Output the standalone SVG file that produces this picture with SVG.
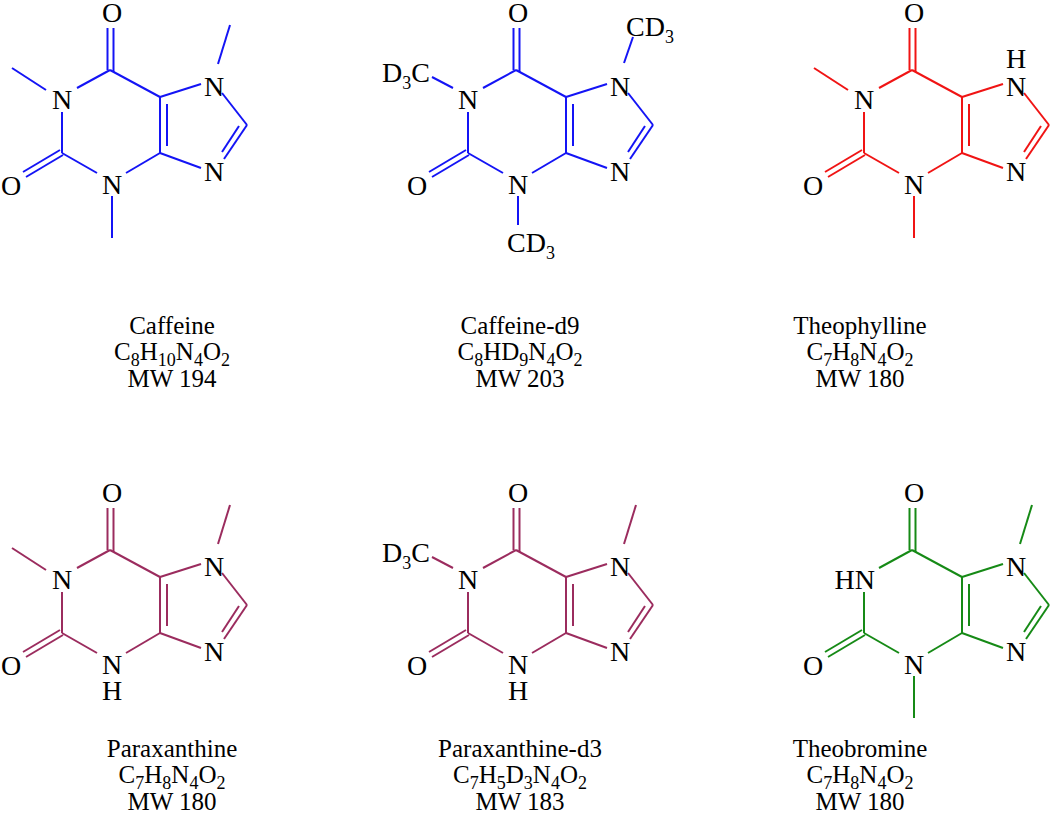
<svg xmlns="http://www.w3.org/2000/svg" xmlns:xlink="http://www.w3.org/1999/xlink" width="1050" height="824" viewBox="0 0 1050 824">
<style>
text{font-family:"Liberation Serif","Times New Roman",serif;fill:#000}
.a{font-size:28px;text-anchor:middle}
.c{font-size:25px;text-anchor:middle}
.s{font-size:18px}
line{stroke:currentColor;stroke-width:2;fill:none}
</style>
<defs>
<g id="core">
<line x1="107.5" y1="28" x2="107.5" y2="70"/><line x1="113.5" y1="28" x2="113.5" y2="72"/>
<line x1="110" y1="70" x2="77" y2="88"/>
<line x1="62" y1="112" x2="62" y2="153"/>
<line x1="60" y1="150" x2="23" y2="172"/><line x1="63" y1="155" x2="26" y2="177"/>
<line x1="62" y1="153" x2="97" y2="173"/>
<line x1="126" y1="173" x2="160" y2="153"/>
<line x1="160" y1="153" x2="160" y2="97"/><line x1="167" y1="104" x2="167" y2="146"/>
<line x1="160" y1="97" x2="110" y2="70"/>
<line x1="160" y1="97" x2="201" y2="84"/>
<line x1="222" y1="93" x2="247" y2="125"/>
<line x1="247" y1="125" x2="224" y2="159"/><line x1="239" y1="126" x2="222" y2="152"/>
<line x1="201" y1="168" x2="160" y2="153"/>
<text class="a" x="112" y="22">O</text>
<text class="a" x="11" y="195">O</text>
<text class="a" x="214" y="96">N</text>
<text class="a" x="214" y="181">N</text>
</g>
<line id="m1" x1="46" y1="90" x2="12" y2="68"/>
<line id="m3" x1="112" y1="196" x2="112" y2="238"/>
<line id="m7" x1="218" y1="64" x2="230" y2="25"/>
<line id="d1" x1="47" y1="88" x2="26" y2="77"/>
<text id="N1" class="a" x="62" y="109">N</text>
<text id="N3" class="a" x="112" y="194">N</text>
<text id="D3C" class="a" x="24" y="82" style="text-anchor:end">D<tspan class="s" dy="7">3</tspan><tspan dy="-7">C</tspan></text>
<text id="H3" class="a" x="112" y="220">H</text>
</defs>
<g id="caffeine" color="#1414f5">
<use xlink:href="#core"/><use xlink:href="#m1"/><use xlink:href="#m3"/><use xlink:href="#m7"/>
<use xlink:href="#N1"/><use xlink:href="#N3"/>
</g>
<g id="caffeine-d9" color="#1414f5" transform="translate(406,0)">
<use xlink:href="#core"/><use xlink:href="#d1"/>
<line x1="112" y1="196" x2="112" y2="225"/>
<line x1="218" y1="63" x2="227" y2="37"/>
<use xlink:href="#N1"/><use xlink:href="#N3"/><use xlink:href="#D3C"/>
<text class="a" x="220" y="36" style="text-anchor:start">CD<tspan class="s" dy="7">3</tspan></text>
<text class="a" x="101" y="252" style="text-anchor:start">CD<tspan class="s" dy="7">3</tspan></text>
</g>
<g id="theophylline" color="#f01414" transform="translate(802,0)">
<use xlink:href="#core"/><use xlink:href="#m1"/><use xlink:href="#m3"/>
<use xlink:href="#N1"/><use xlink:href="#N3"/>
<text class="a" x="214" y="68">H</text>
</g>
<g id="paraxanthine" color="#9b2c5e" transform="translate(0,480)">
<use xlink:href="#core"/><use xlink:href="#m1"/><use xlink:href="#m7"/>
<use xlink:href="#N1"/><use xlink:href="#N3"/><use xlink:href="#H3"/>
</g>
<g id="paraxanthine-d3" color="#9b2c5e" transform="translate(406,480)">
<use xlink:href="#core"/><use xlink:href="#d1"/><use xlink:href="#m7"/>
<use xlink:href="#N1"/><use xlink:href="#N3"/><use xlink:href="#H3"/><use xlink:href="#D3C"/>
</g>
<g id="theobromine" color="#168a16" transform="translate(802,480)">
<use xlink:href="#core"/><use xlink:href="#m3"/><use xlink:href="#m7"/>
<use xlink:href="#N3"/>
<text class="a" x="73" y="109" style="text-anchor:end">HN</text>
</g>
<g id="captions">
<text class="c" x="172" y="334">Caffeine</text>
<text class="c" x="172" y="360">C<tspan class="s" dy="6">8</tspan><tspan dy="-6">H</tspan><tspan class="s" dy="6">10</tspan><tspan dy="-6">N</tspan><tspan class="s" dy="6">4</tspan><tspan dy="-6">O</tspan><tspan class="s" dy="6">2</tspan></text>
<text class="c" x="172" y="387">MW 194</text>
<text class="c" x="520" y="334">Caffeine-d9</text>
<text class="c" x="520" y="360">C<tspan class="s" dy="6">8</tspan><tspan dy="-6">HD</tspan><tspan class="s" dy="6">9</tspan><tspan dy="-6">N</tspan><tspan class="s" dy="6">4</tspan><tspan dy="-6">O</tspan><tspan class="s" dy="6">2</tspan></text>
<text class="c" x="520" y="387">MW 203</text>
<text class="c" x="860" y="334">Theophylline</text>
<text class="c" x="860" y="360">C<tspan class="s" dy="6">7</tspan><tspan dy="-6">H</tspan><tspan class="s" dy="6">8</tspan><tspan dy="-6">N</tspan><tspan class="s" dy="6">4</tspan><tspan dy="-6">O</tspan><tspan class="s" dy="6">2</tspan></text>
<text class="c" x="860" y="387">MW 180</text>
<text class="c" x="172" y="757">Paraxanthine</text>
<text class="c" x="172" y="783">C<tspan class="s" dy="6">7</tspan><tspan dy="-6">H</tspan><tspan class="s" dy="6">8</tspan><tspan dy="-6">N</tspan><tspan class="s" dy="6">4</tspan><tspan dy="-6">O</tspan><tspan class="s" dy="6">2</tspan></text>
<text class="c" x="172" y="810">MW 180</text>
<text class="c" x="520" y="757">Paraxanthine-d3</text>
<text class="c" x="520" y="783">C<tspan class="s" dy="6">7</tspan><tspan dy="-6">H</tspan><tspan class="s" dy="6">5</tspan><tspan dy="-6">D</tspan><tspan class="s" dy="6">3</tspan><tspan dy="-6">N</tspan><tspan class="s" dy="6">4</tspan><tspan dy="-6">O</tspan><tspan class="s" dy="6">2</tspan></text>
<text class="c" x="520" y="810">MW 183</text>
<text class="c" x="860" y="757">Theobromine</text>
<text class="c" x="860" y="783">C<tspan class="s" dy="6">7</tspan><tspan dy="-6">H</tspan><tspan class="s" dy="6">8</tspan><tspan dy="-6">N</tspan><tspan class="s" dy="6">4</tspan><tspan dy="-6">O</tspan><tspan class="s" dy="6">2</tspan></text>
<text class="c" x="860" y="810">MW 180</text>
</g>
</svg>
